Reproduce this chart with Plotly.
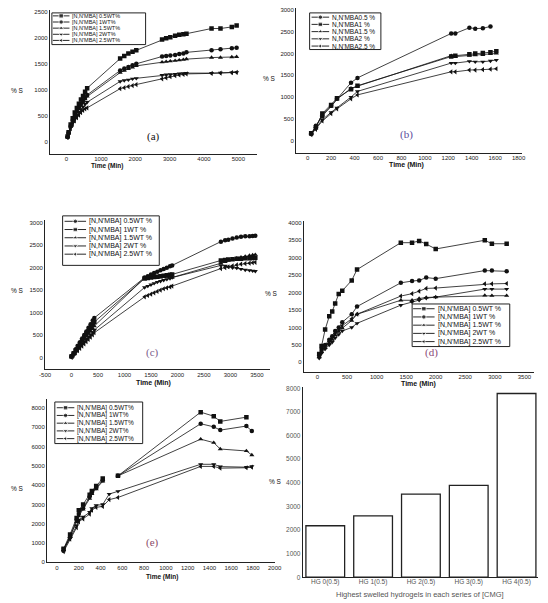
import plotly.graph_objects as go

W, H = 548, 603

# ---------------- data ----------------
# (a)
a_time = [30, 60, 120, 180, 240, 300, 360, 420, 480, 540, 600, 1560, 1680, 1800, 1920, 2030,
          2780, 2900, 3020, 3160, 3280, 3400, 3490, 4220, 4480, 4810, 4950]
a_s1 = [100, 180, 330, 450, 560, 650, 730, 810, 880, 960, 1030, 1600, 1650, 1700, 1730, 1760,
        1970, 1990, 2010, 2040, 2060, 2070, 2080, 2180, 2180, 2210, 2240]
a_s2 = [90, 170, 300, 410, 500, 590, 660, 730, 790, 850, 900, 1370, 1410, 1440, 1470, 1500,
        1640, 1650, 1660, 1670, 1690, 1700, 1720, 1760, 1780, 1800, 1810]
a_s3 = [90, 160, 290, 390, 480, 560, 630, 700, 760, 820, 870, 1330, 1370, 1400, 1430, 1460,
        1530, 1540, 1550, 1560, 1570, 1580, 1590, 1620, 1620, 1630, 1635]
a_s4 = [80, 150, 270, 360, 440, 510, 570, 620, 670, 720, 760, 1160, 1180, 1190, 1210, 1220,
        1280, 1290, 1295, 1300, 1310, 1315, 1320, 1320, 1325, 1330, 1335]
a_s5 = [80, 140, 250, 330, 400, 460, 510, 560, 600, 630, 650, 1020, 1040, 1060, 1080, 1100,
        1210, 1230, 1250, 1270, 1285, 1295, 1305, 1315, 1320, 1330, 1335]
a_labels = ["[N,N'MBA] 0.5WT%", "[N,N'MBA] 1WT%", "[N,N'MBA] 1.5WT%", "[N,N'MBA] 2WT%", "[N,N'MBA] 2.5WT%"]
a_xticks = [0, 1000, 2000, 3000, 4000, 5000]
a_yticks = [0, 500, 1000, 1500, 2000, 2500]

# (b)
b_time = [30, 70, 125, 200, 250, 370, 425, 1225, 1260, 1380, 1430, 1495, 1560, 1610]
b_s1 = [150, 340, 560, 800, 960, 1330, 1440, 2460, 2460, 2590, 2570, 2580, 2620, None]
b_s2 = [170, 300, 620, 820, 970, 1180, 1260, 1930, 1950, 1980, 2000, 2010, 2030, 2050]
b_s3 = [160, 320, 600, 780, 950, 1200, 1250, 1950, 1930, 1950, 1960, 1970, 1990, 2000]
b_s4 = [150, 280, 480, 650, 750, 1000, 1130, 1780, 1780, 1820, 1810, 1810, 1830, 1850]
b_s5 = [140, 260, 450, 620, 730, 960, 1050, 1580, 1580, 1620, 1620, 1630, 1640, 1650]
b_labels = ["N,N'MBA0.5 %", "N,N'MBA1 %", "N,N'MBA1.5 %", "N,N'MBA2 %", "N,N'MBA2.5 %"]
b_xticks = [0, 200, 400, 600, 800, 1000, 1200, 1400, 1600, 1800]
b_yticks = [0, 500, 1000, 1500, 2000, 2500, 3000]

# (c)
c_time = [0, 40, 80, 120, 160, 200, 240, 280, 320, 360, 400, 430,
          1380, 1440, 1500, 1560, 1620, 1680, 1740, 1800, 1860, 1900,
          2820, 2900, 2960, 3040, 3120, 3200, 3280, 3360, 3420, 3470]
c_s1 = [30, 100, 180, 260, 340, 420, 500, 580, 660, 740, 820, 880,
        1780, 1810, 1850, 1880, 1910, 1940, 1970, 2000, 2030, 2050,
        2580, 2610, 2620, 2650, 2670, 2690, 2700, 2700, 2705, 2710]
c_s2 = [20, 90, 160, 240, 310, 380, 450, 520, 590, 660, 730, 790,
        1760, 1770, 1780, 1790, 1800, 1810, 1820, 1830, 1840, 1850,
        2160, 2170, 2180, 2190, 2200, 2200, 2210, 2210, 2215, 2220]
c_s3 = [20, 80, 150, 220, 290, 350, 410, 470, 530, 590, 650, 700,
        1770, 1775, 1780, 1785, 1790, 1790, 1795, 1800, 1800, 1780,
        2100, 2130, 2160, 2190, 2210, 2230, 2250, 2270, 2280, 2290]
c_s4 = [10, 70, 130, 190, 250, 310, 360, 410, 460, 510, 560, 610,
        1560, 1590, 1620, 1650, 1680, 1700, 1720, 1740, 1760, 1780,
        2050, 2040, 2020, 2000, 1990, 1970, 1950, 1940, 1930, 1920]
c_s5 = [0, 50, 100, 150, 200, 250, 300, 350, 400, 450, 500, 550,
        1350, 1380, 1410, 1440, 1470, 1500, 1530, 1550, 1570, 1590,
        1980, 2000, 2020, 2040, 2060, 2080, 2090, 2100, 2110, 2120]
c_labels = ["[N,N'MBA] 0.5WT %", "[N,N'MBA] 1WT %", "[N,N'MBA] 1.5WT %", "[N,N'MBA] 2WT %", "[N,N'MBA] 2.5WT %"]
c_xticks = [-500, 0, 500, 1000, 1500, 2000, 2500, 3000, 3500]
c_yticks = [0, 500, 1000, 1500, 2000, 2500, 3000]

# (d)
d_time = [30, 70, 130, 200, 250, 300, 360, 420, 580, 670, 1410, 1600, 1720, 1840, 2000, 2830, 2950, 3200]
d_s1 = [240, 470, 940, 1320, 1460, 1690, 1960, 2050, 2350, 2660, 3430, 3430, 3480, 3390, 3250, 3500, 3400, 3400]
d_s2 = [200, 380, 500, 650, 750, 900, 1000, 1150, 1380, 1600, 2280, 2330, 2350, 2430, 2400, 2630, 2630, 2610]
d_s3 = [150, 300, 420, 550, 650, 780, 880, 980, 1200, 1380, 1780, 1780, 1830, 1860, 1870, 1920, 1910, 1910]
d_s4 = [120, 260, 380, 500, 580, 700, 800, 900, 1000, 1120, 1640, 1730, 1780, 1840, 1870, 2100, 2100, 2100]
d_s5 = [180, 330, 460, 600, 700, 830, 930, 1050, 1250, 1380, 1900, 1970, 2040, 2120, 2130, 2250, 2250, 2260]
d_labels = ["[N,N'MBA] 0.5WT %", "[N,N'MBA] 1WT %", "[N,N'MBA] 1.5WT %", "[N,N'MBA] 2WT %", "[N,N'MBA] 2.5WT %"]
d_xticks = [0, 500, 1000, 1500, 2000, 2500, 3000, 3500]
d_yticks = [0, 500, 1000, 1500, 2000, 2500, 3000, 3500, 4000]

# (e)
e_time = [60, 120, 180, 200, 240, 300, 320, 360, 420, 480, 560, 1320, 1440, 1500, 1740, 1790]
e_s1 = [700, 1450, 2300, 2700, 3000, 3500, 3700, 3950, 4350, None, 4480, 7780, 7570, 7300, 7520, None]
e_s2 = [600, 1300, 2200, 2500, 2800, 3400, 3600, 3850, 4250, None, 4480, 7180, 7020, 6850, 7060, 6800]
e_s3 = [650, 1350, 2100, 2400, 2750, 3300, 3550, 3800, 4200, None, 4480, 6380, 6200, 5870, 5770, 5560]
e_s4 = [700, 1250, 1900, 2200, 2350, 2600, 2800, 2950, 3000, 3540, 3680, 5080, 5080, 4960, 4930, 4970]
e_s5 = [560, 1200, 1800, 2100, 2250, 2500, 2700, 2850, 2900, 3250, 3360, 4970, 4970, 4880, 4900, 4930]
e_labels = ["[N,N'MBA] 0.5WT%", "[N,N'MBA] 1WT%", "[N,N'MBA] 1.5WT%", "[N,N'MBA] 2WT%", "[N,N'MBA] 2.5WT%"]
e_xticks = [0, 200, 400, 600, 800, 1000, 1200, 1400, 1600, 1800, 2000]
e_yticks = [0, 1000, 2000, 3000, 4000, 5000, 6000, 7000, 8000]

# (f)
f_categories = ["HG 0(0.5)", "HG 1(0.5)", "HG 2(0.5)", "HG 3(0.5)", "HG 4(0.5)"]
f_values = [2180, 2600, 3520, 3890, 7780]
f_yticks = [0, 1000, 2000, 3000, 4000, 5000, 6000, 7000, 8000]

sym_sq_first = ["square", "circle", "triangle-up", "triangle-down", "triangle-left"]
sym_ci_first = ["circle", "square", "triangle-up", "triangle-down", "triangle-left"]

# ---------------- layout helpers ----------------
def xd(p0, p1):
    return [p0 / W, p1 / W]

def yd(top, bottom):
    return [1 - bottom / H, 1 - top / H]

LINEC = "#222"
SANS = "Liberation Sans, Arial, sans-serif"

def axis(domain, rng, anchor, tickvals, fs=6, color="#222", standoff=0):
    return dict(domain=domain, range=rng, anchor=anchor, showline=True, linecolor=LINEC,
                linewidth=1, ticks="", showgrid=False, zeroline=False, tickmode="array",
                tickvals=tickvals, ticktext=[str(v) for v in tickvals],
                ticklabelstandoff=standoff,
                tickfont=dict(family=SANS, size=fs, color=color))

fig = go.Figure()

panels = [
    ("x", "y", a_time, [a_s1, a_s2, a_s3, a_s4, a_s5], sym_sq_first),
    ("x2", "y2", b_time, [b_s1, b_s2, b_s3, b_s4, b_s5], sym_ci_first),
    ("x3", "y3", c_time, [c_s1, c_s2, c_s3, c_s4, c_s5], sym_ci_first),
    ("x4", "y4", d_time, [d_s1, d_s2, d_s3, d_s4, d_s5], sym_sq_first),
    ("x5", "y5", e_time, [e_s1, e_s2, e_s3, e_s4, e_s5], sym_sq_first),
]
for xa, ya, t, series, syms in panels:
    for s, sym in zip(series, syms):
        fig.add_trace(go.Scatter(
            x=t, y=s, xaxis=xa, yaxis=ya, mode="lines+markers", connectgaps=False,
            line=dict(color="#111", width=0.8),
            marker=dict(symbol=sym, size=4.5, color="#111"),
            showlegend=False, hoverinfo="skip"))

fig.add_trace(go.Bar(
    x=list(range(len(f_categories))), y=f_values, xaxis="x6", yaxis="y6", width=0.81,
    marker=dict(color="white", line=dict(color="#222", width=1.3)),
    showlegend=False, hoverinfo="skip"))

# ---------------- legends (drawn in pixel overlay) ----------------
legend_specs = [
    ((47, 10, 143, 42), 48, 65, [13, 19.2, 25.4, 31.6, 37.8], 67, 5.5, a_labels, sym_sq_first),
    ((311, 10, 384, 47), 313, 331, [14.3, 21.6, 28.9, 36.2, 43.5], 333, 6.5, b_labels, sym_ci_first),
    ((58, 215, 157, 265), 60, 82, [220.5, 228.8, 237.1, 245.4, 253.7], 84, 7, c_labels, sym_ci_first),
    ((416, 304, 516, 347), 417, 439, [308.8, 317.1, 325.4, 333.7, 342], 441, 7, d_labels, sym_sq_first),
    ((50, 403, 140, 445), 52, 70, [408.8, 416.6, 424.4, 432.2, 440], 72, 6.5, e_labels, sym_sq_first),
]
annotations = []
shapes = []
for (bx0, by0, bx1, by1), gx0, gx1, rows, tx, fs, labels, syms in legend_specs:
    shapes.append(dict(type="rect", xref="paper", yref="paper",
                       x0=bx0 / W, x1=bx1 / W, y0=1 - by1 / H, y1=1 - by0 / H,
                       line=dict(color="#222", width=1), fillcolor="rgba(0,0,0,0)", layer="above"))
    for ry, lab, sym in zip(rows, labels, syms):
        gm = (gx0 + gx1) / 2
        fig.add_trace(go.Scatter(
            x=[gx0, gm, gx1], y=[ry, ry, ry], xaxis="x7", yaxis="y7", mode="lines+markers",
            line=dict(color="#111", width=0.9),
            marker=dict(symbol=sym, size=[0, 4.5, 0], color="#111"),
            showlegend=False, hoverinfo="skip"))
        annotations.append(dict(text=lab, xref="paper", yref="paper", x=tx / W, y=1 - ry / H,
                                xanchor="left", yanchor="middle", showarrow=False, borderpad=0,
                                font=dict(family=SANS, size=fs, color="#111")))

# ---------------- axis titles and panel labels ----------------
def txt(s, px, py, size=6.5, color="#111", family=SANS, bold=False):
    annotations.append(dict(text=("<b>%s</b>" % s) if bold else s, xref="paper", yref="paper",
                            x=px / W, y=1 - py / H, xanchor="center", yanchor="middle",
                            showarrow=False, borderpad=0, font=dict(family=family, size=size, color=color)))

txt("Time (Min)", 103, 165, 6.5, bold=True)
txt("Time (Min)", 410, 164, 7, bold=True)
txt("Time (Min)", 151, 384, 7, bold=True)
txt("Time (Min)", 423, 385, 7, bold=True)
txt("Time (Min)", 160, 580, 6.5, bold=True)
txt("Highest swelled hydrogels in each series of [CMG]", 424, 597, 7.5, color="#555")
for px, py in [(12, 88), (270, 76), (12, 290), (272, 293), (12, 490), (276, 483)]:
    txt("% S", px, py, 6.5)

serif = "Liberation Serif, DejaVu Serif, serif"
txt("(a)", 151, 135, 11, family=serif)
txt("(b)", 410, 133, 11, color="#5a4c9c", family=serif)
txt("(c)", 150, 353, 11, color="#7a5a8a", family=serif)
txt("(d)", 436, 353, 11, color="#8a4a78", family=serif)
txt("(e)", 150, 545, 11, color="#8a4a68", family=serif)

fig.update_layout(
    width=W, height=H, margin=dict(l=0, r=0, t=0, b=0),
    paper_bgcolor="white", plot_bgcolor="rgba(0,0,0,0)", showlegend=False,
    xaxis=axis(xd(45, 257), [-483, 5540], "y", a_xticks, standoff=-2),
    yaxis=axis(yd(7, 153), [-248, 2538], "x", a_yticks),
    xaxis2=axis(xd(297, 529), [-100, 1833], "y2", b_xticks, standoff=-2),
    yaxis2=axis(yd(5, 152), [-295, 3045], "x2", b_yticks),
    xaxis3=axis(xd(40, 270), [-500, 3740], "y3", c_xticks, standoff=-1),
    yaxis3=axis(yd(219, 370), [-265, 3066], "x3", c_yticks),
    xaxis4=axis(xd(305, 541), [-231, 3665], "y4", d_xticks, standoff=-1),
    yaxis4=axis(yd(220, 373), [-284, 4057], "x4", d_yticks),
    xaxis5=axis(xd(42, 276), [-92, 2007], "y5", e_xticks, standoff=-1),
    yaxis5=axis(yd(400, 565), [0, 8460], "x5", e_yticks),
    xaxis6=dict(axis(xd(304, 545), [-0.47, 4.45], "y6", list(range(len(f_categories))), 6.5, "#555", standoff=-2),
                ticktext=f_categories),
    yaxis6=axis(yd(388, 580), [0, 8050], "x6", f_yticks, 6.5, "#555"),
    xaxis7=dict(domain=[0, 1], range=[0, W], visible=False, anchor="y7", fixedrange=True),
    yaxis7=dict(domain=[0, 1], range=[H, 0], visible=False, anchor="x7", fixedrange=True),
    shapes=shapes, annotations=annotations,
)

fig.write_html("out.html")
